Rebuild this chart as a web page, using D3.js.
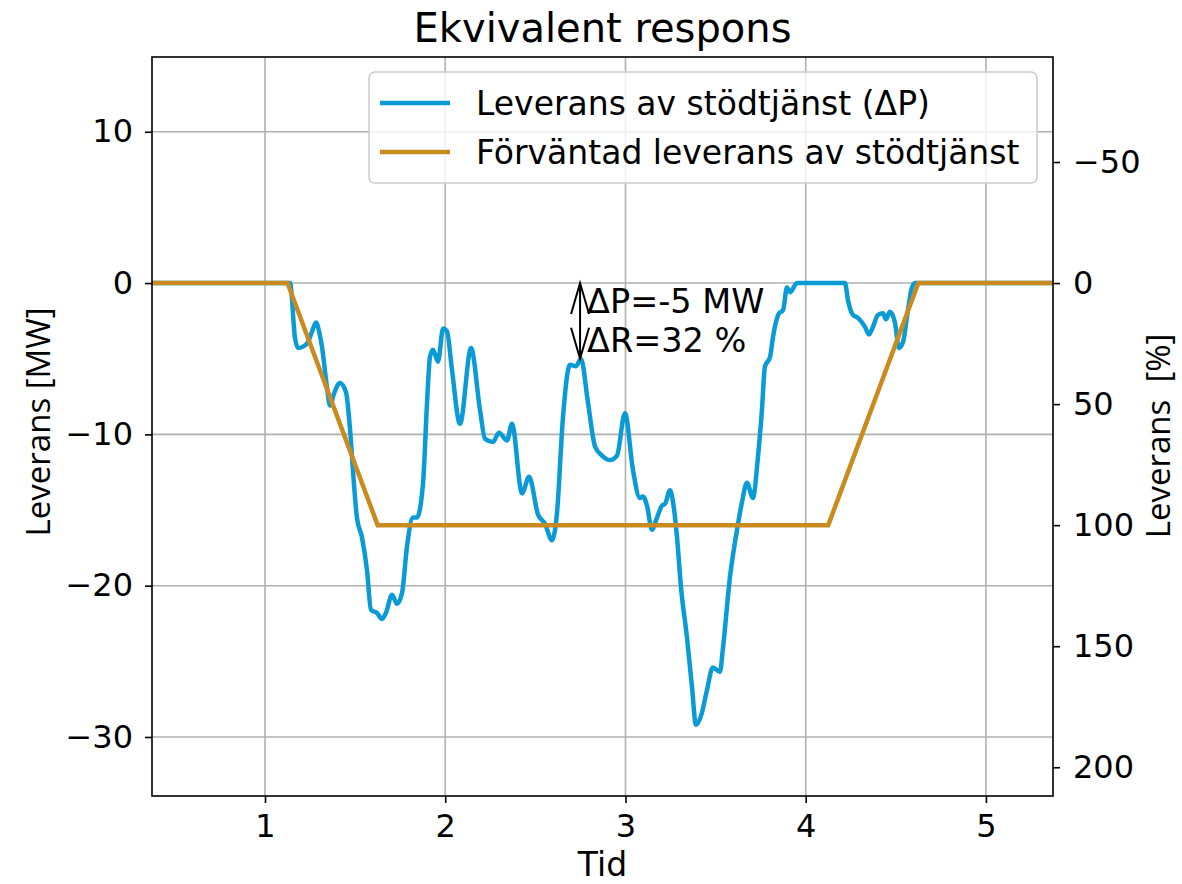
<!DOCTYPE html>
<html>
<head>
<meta charset="utf-8">
<script src="https://cdn.jsdelivr.net/npm/d3@7"></script>
<style>
  body { margin: 0; background: #fff; }
  text { font-family: "DejaVu Sans", sans-serif; fill: #000; }
  .lbl { font-family: "Open Sans", sans-serif; white-space: pre; }
</style>
</head>
<body>
<div id="chart-area"></div>
<script>
// measured delivery (blue)
const tid = [0.373, 1.139, 1.166, 1.183, 1.211, 1.239, 1.261, 1.283, 1.300, 1.316, 1.344, 1.361, 1.383, 1.416,
  1.449, 1.472, 1.488, 1.510, 1.538, 1.566, 1.588, 1.621, 1.649, 1.671, 1.705, 1.732, 1.760, 1.788, 1.821,
  1.843, 1.877, 1.899, 1.915, 1.932, 1.960, 1.988, 2.010, 2.037, 2.082, 2.143, 2.193, 2.221, 2.265, 2.298,
  2.343, 2.370, 2.426, 2.465, 2.515, 2.553, 2.592, 2.620, 2.653, 2.692, 2.725, 2.753, 2.792, 2.831, 2.870,
  2.914, 2.953, 2.997, 3.042, 3.080, 3.097, 3.119, 3.147, 3.175, 3.203, 3.219, 3.247, 3.264, 3.286, 3.308,
  3.341, 3.369, 3.391, 3.424, 3.452, 3.485, 3.524, 3.541, 3.580, 3.619, 3.646, 3.674, 3.707, 3.735, 3.757,
  3.774, 3.802, 3.818, 3.852, 3.874, 3.896, 3.913, 3.952, 4.218, 4.234, 4.262, 4.290, 4.329, 4.351, 4.373,
  4.401, 4.429, 4.445, 4.467, 4.495, 4.517, 4.540, 4.567, 4.589, 4.606, 5.372];
const leverans = [0, 0, -3.6, -4.3, -4.2, -3.9, -3.2, -2.6, -3.2, -4.2, -6.9, -8.1, -7.3, -6.6,
  -7.2, -9.7, -12.4, -15.5, -16.8, -19.0, -21.6, -21.8, -22.2, -21.8, -20.6, -21.2, -20.5, -17.4, -15.5,
  -15.5, -13.2, -7.9, -4.9, -4.4, -5.2, -3.0, -3.2, -5.7, -9.3, -4.3, -8.4, -10.3, -10.5, -9.9,
  -10.4, -9.3, -13.9, -12.8, -15.3, -15.9, -17.0, -15.2, -8.9, -5.4, -5.5, -5.0, -7.9, -10.8, -11.4,
  -11.7, -11.4, -8.6, -12.4, -14.2, -14.1, -14.7, -16.3, -15.5, -14.7, -14.6, -13.7, -14.5, -16.8, -20.1,
  -23.4, -26.7, -29.2, -28.4, -26.9, -25.4, -25.7, -24.1, -19.4, -16.3, -14.5, -13.2, -14.2, -11.5, -8.4,
  -5.5, -4.9, -3.6, -2.0, -1.8, -0.3, -0.6, 0, 0, -1.1, -2.1, -2.3, -2.9, -3.4, -2.9,
  -2.1, -2.0, -2.4, -1.9, -2.6, -4.3, -3.9, -1.8, -0.3, 0, 0];

// expected delivery (orange)
const tidExp = [0.373, 1.125, 1.625, 4.125, 4.625, 5.372];
const leveransExp = [0, 0, -16, -16, 0, 0];

const fullResponse = -16; // MW that equals 100 %
const xTicks = [1, 2, 3, 4, 5];
const yTicks = [-30, -20, -10, 0, 10];
const pctTicks = [-50, 0, 50, 100, 150, 200];

const arrowX = 2.748, deltaP = -5, deltaR = 32;

const chartWidth = 1182, chartHeight = 884;
const margin = {top: 57, right: 129, bottom: 88, left: 152};
const width = chartWidth - margin.left - margin.right;
const height = chartHeight - margin.top - margin.bottom;

const blue = "#0a9bd7", orange = "#c98a1f";

let svg = d3.select("#chart-area").append("svg")
  .attr("width", chartWidth)
  .attr("height", chartHeight);

svg.append("rect").attr("width", chartWidth).attr("height", chartHeight).attr("fill", "#fff");

let g = svg.append("g")
  .attr("transform", `translate(${margin.left}, ${margin.top})`);

const x = d3.scaleLinear().domain([0.373, 5.372]).range([0, width]);
const y = d3.scaleLinear().domain([-33.9, 14.94]).range([height, 0]);
const yPct = d3.scaleLinear()
  .domain([y.domain()[0] / fullResponse * 100, y.domain()[1] / fullResponse * 100])
  .range([height, 0]);

// grid
g.selectAll(".gx").data(xTicks).enter().append("line")
  .attr("x1", d => x(d)).attr("x2", d => x(d))
  .attr("y1", 0).attr("y2", height)
  .attr("stroke", "#b0b0b0").attr("stroke-width", 1.6);
g.selectAll(".gy").data(yTicks).enter().append("line")
  .attr("x1", 0).attr("x2", width)
  .attr("y1", d => y(d)).attr("y2", d => y(d))
  .attr("stroke", "#b0b0b0").attr("stroke-width", 1.6);

const fmt = d => d < 0 ? "\u2212" + Math.abs(d) : String(d);

// axes
let xAxis = g.append("g")
  .attr("transform", `translate(0, ${height})`)
  .call(d3.axisBottom(x).tickValues(xTicks).tickSize(7).tickPadding(11).tickFormat(fmt));
let yAxis = g.append("g")
  .call(d3.axisLeft(y).tickValues(yTicks).tickSize(7).tickPadding(12).tickFormat(fmt));
let yAxisR = g.append("g")
  .attr("transform", `translate(${width}, 0)`)
  .call(d3.axisRight(yPct).tickValues(pctTicks).tickSize(7).tickPadding(13).tickFormat(fmt));

[xAxis, yAxis, yAxisR].forEach(a => {
  a.select(".domain").remove();
  a.selectAll(".tick line").attr("stroke", "#000").attr("stroke-width", 1.6);
  a.selectAll(".tick text").attr("font-size", 32).attr("font-family", "DejaVu Sans");
});

// clip + lines
svg.append("defs").append("clipPath").attr("id", "clip")
  .append("rect").attr("width", width).attr("height", height);

const line = d3.line().x(d => x(d[0])).y(d => y(d[1]));
const plot = g.append("g").attr("clip-path", "url(#clip)");

plot.append("path")
  .datum(d3.zip(tid, leverans))
  .attr("d", line.curve(d3.curveMonotoneX))
  .attr("fill", "none").attr("stroke", blue).attr("stroke-width", 4.5)
  .attr("stroke-linejoin", "round");

plot.append("path")
  .datum(d3.zip(tidExp, leveransExp))
  .attr("d", d3.line().x(d => x(d[0])).y(d => y(d[1])))
  .attr("fill", "none").attr("stroke", orange).attr("stroke-width", 4.5);

// frame
g.append("rect").attr("width", width).attr("height", height)
  .attr("fill", "none").attr("stroke", "#000").attr("stroke-width", 1.6);

// annotation arrow
const ax = x(arrowX), a0 = y(0), a1 = y(deltaP);
const ann = g.append("g").attr("stroke", "#000").attr("stroke-width", 2).attr("fill", "none");
ann.append("line").attr("x1", ax).attr("x2", ax).attr("y1", a0).attr("y2", a1);
ann.append("path").attr("d", `M${ax - 9},${a0 + 31}L${ax},${a0}L${ax + 9},${a0 + 31}`);
ann.append("path").attr("d", `M${ax - 9},${a1 - 31}L${ax},${a1}L${ax + 9},${a1 - 31}`);

g.append("text").attr("x", ax + 7).attr("y", a0 + 30).attr("font-size", 33.5)
  .text(`ΔP=${deltaP} MW`);
g.append("text").attr("x", ax + 7).attr("y", a0 + 69).attr("font-size", 33.5)
  .text(`ΔR=${deltaR} %`);

// legend
const lg = g.append("g").attr("transform", `translate(${369 - margin.left}, ${72 - margin.top})`);
lg.append("rect").attr("width", 668).attr("height", 111).attr("rx", 6)
  .attr("fill", "#fff").attr("fill-opacity", 0.8)
  .attr("stroke", "#cccccc").attr("stroke-width", 1.6);
const items = [["Leverans av stödtjänst (ΔP)", blue], ["Förväntad leverans av stödtjänst", orange]];
items.forEach((it, i) => {
  lg.append("line").attr("x1", 11).attr("x2", 81).attr("y1", 31 + i * 49).attr("y2", 31 + i * 49)
    .attr("stroke", it[1]).attr("stroke-width", 4.5);
  lg.append("text").attr("x", 107).attr("y", 43 + i * 49).attr("font-size", 33).text(it[0]);
});

// titles
svg.append("text").attr("x", margin.left + width / 2).attr("y", 42)
  .attr("text-anchor", "middle").attr("font-size", 40).text("Ekvivalent respons");

svg.append("text").attr("x", margin.left + width / 2).attr("y", 876)
  .attr("font-family", "Liberation Sans")
  .attr("text-anchor", "middle").attr("font-size", 33).text("Tid");

svg.append("text").attr("class", "lbl")
  .attr("transform", `translate(50, 422) rotate(-90)`)
  .attr("text-anchor", "middle").attr("font-size", 33).text("Leverans [MW]");

svg.append("text").attr("class", "lbl")
  .attr("transform", `translate(1170, 436) rotate(-90)`)
  .attr("text-anchor", "middle").attr("font-size", 33).text("Leverans  [%]");
</script>
</body>
</html>
